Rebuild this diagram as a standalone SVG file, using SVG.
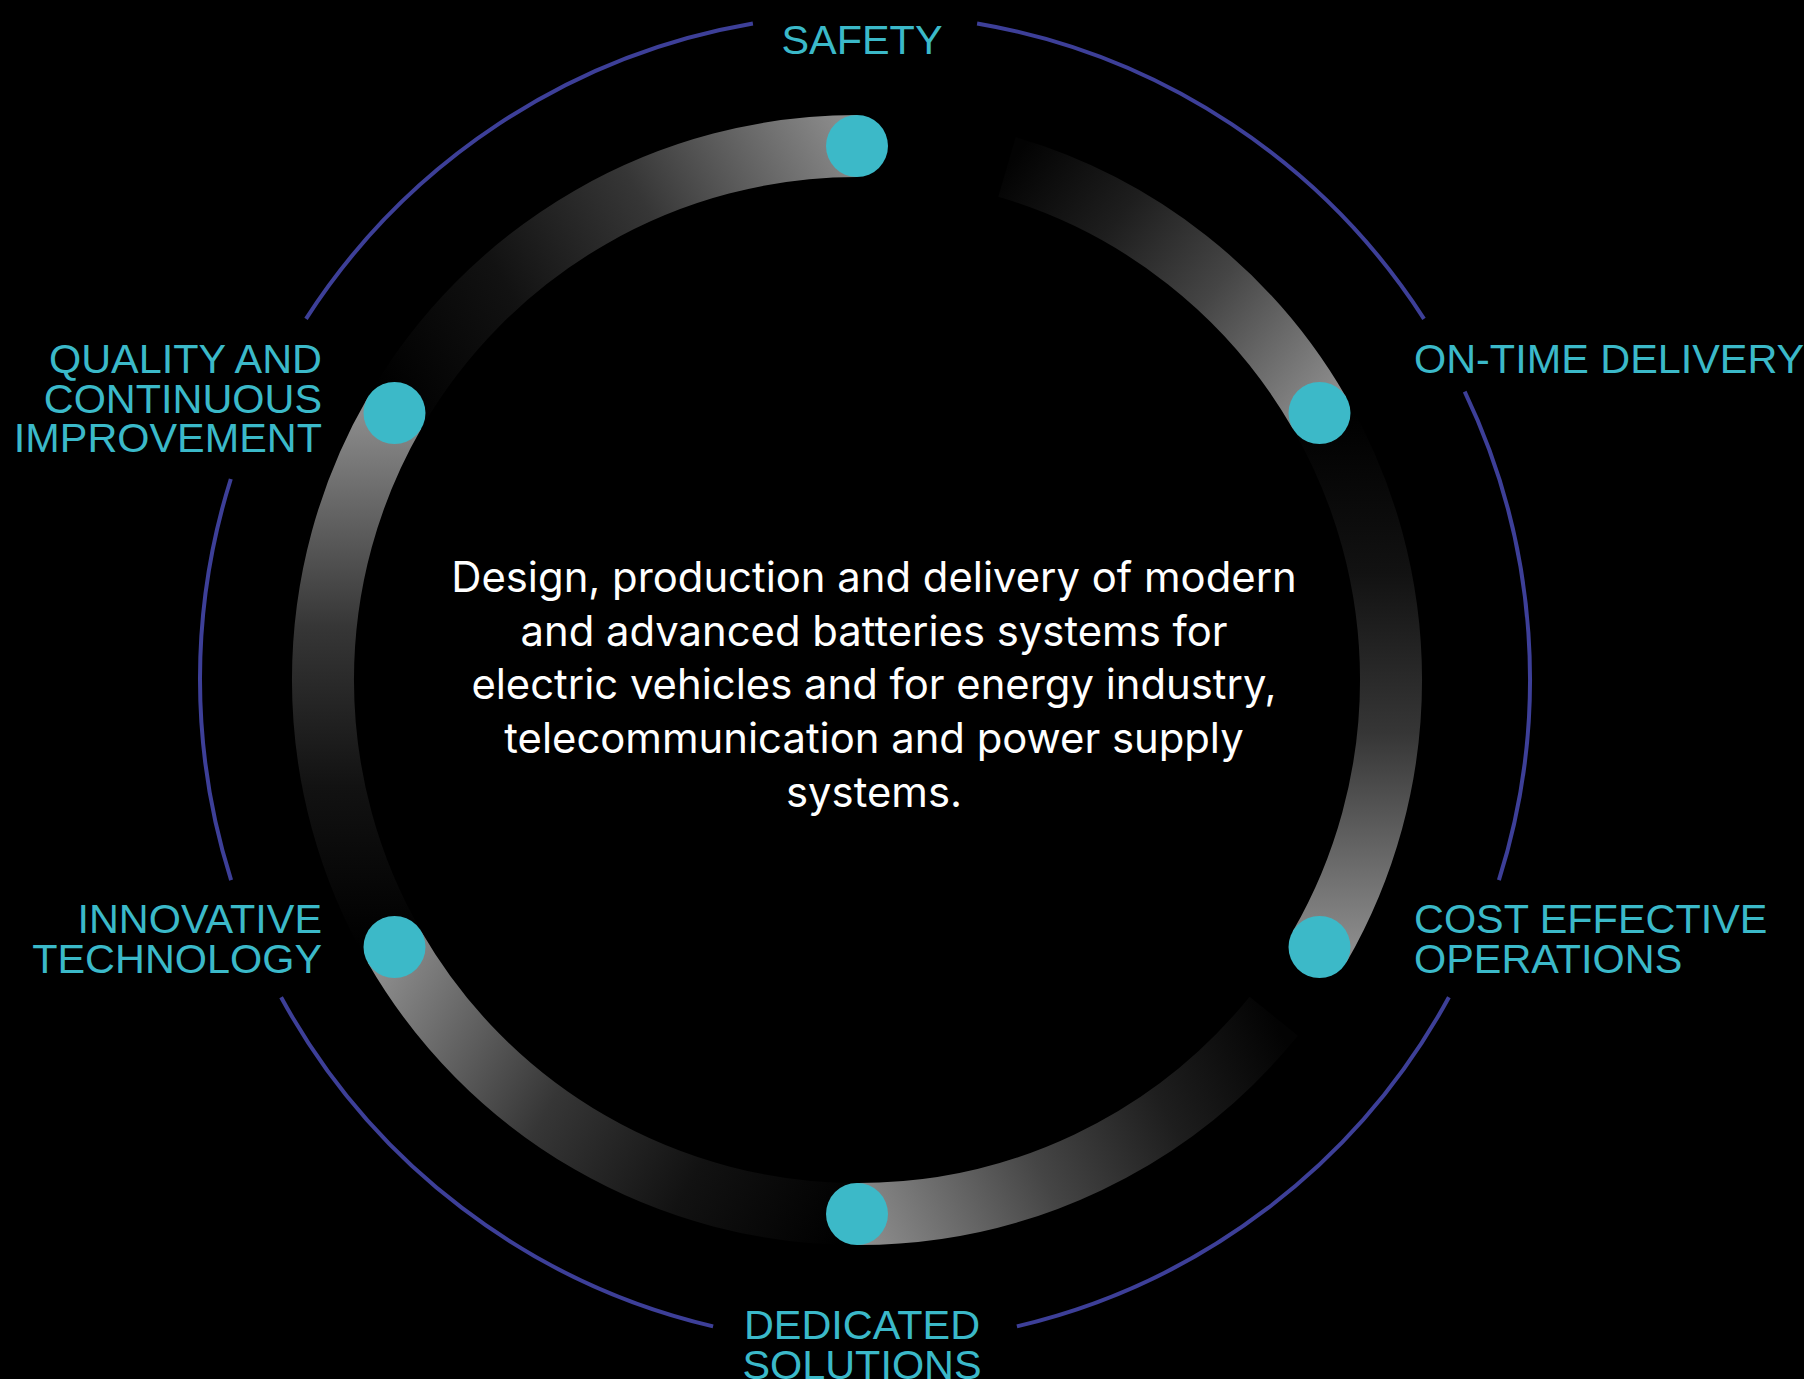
<svg xmlns="http://www.w3.org/2000/svg" width="1804" height="1379" viewBox="0 0 1804 1379">
<defs>
<style>
.label{font-family:"Liberation Sans",Arial,sans-serif;font-size:41.4px;fill:#3bb9c9}
.body{font-family:Inter,"Liberation Sans",sans-serif;font-size:41.8px;fill:#ffffff;text-anchor:middle}
.frame{fill:none;stroke:#3d3f98;stroke-width:4}
.seg{fill:none;stroke-width:62;stroke-linecap:butt}
.dot{fill:#3cb9c8}
</style>
<linearGradient id="gA" gradientUnits="userSpaceOnUse" x1="394.5" y1="413" x2="857" y2="146"><stop offset="0" stop-color="#000"/><stop offset="0.3" stop-color="#121212"/><stop offset="0.6" stop-color="#363636"/><stop offset="1" stop-color="#8c8c8c"/></linearGradient>
<linearGradient id="gB" gradientUnits="userSpaceOnUse" x1="1007" y1="167" x2="1319.5" y2="413"><stop offset="0" stop-color="#030303"/><stop offset="0.3" stop-color="#1e1e1e"/><stop offset="0.6" stop-color="#454545"/><stop offset="1" stop-color="#8c8c8c"/></linearGradient>
<linearGradient id="gC" gradientUnits="userSpaceOnUse" x1="1319.5" y1="413" x2="1319.5" y2="947"><stop offset="0" stop-color="#000"/><stop offset="0.3" stop-color="#121212"/><stop offset="0.6" stop-color="#363636"/><stop offset="1" stop-color="#8c8c8c"/></linearGradient>
<linearGradient id="gD" gradientUnits="userSpaceOnUse" x1="1273.7" y1="1016.2" x2="857" y2="1214"><stop offset="0" stop-color="#030303"/><stop offset="0.3" stop-color="#1e1e1e"/><stop offset="0.6" stop-color="#454545"/><stop offset="1" stop-color="#8c8c8c"/></linearGradient>
<linearGradient id="gE" gradientUnits="userSpaceOnUse" x1="857" y1="1214" x2="394.5" y2="947"><stop offset="0" stop-color="#000"/><stop offset="0.3" stop-color="#121212"/><stop offset="0.6" stop-color="#363636"/><stop offset="1" stop-color="#8c8c8c"/></linearGradient>
<linearGradient id="gF" gradientUnits="userSpaceOnUse" x1="394.5" y1="947" x2="394.5" y2="413"><stop offset="0" stop-color="#000"/><stop offset="0.3" stop-color="#121212"/><stop offset="0.6" stop-color="#363636"/><stop offset="1" stop-color="#8c8c8c"/></linearGradient>
</defs>
<rect x="0" y="0" width="1804" height="1379" fill="#000"/>
<g id="frame">
<path class="frame" d="M 977.1 23.5 A 665 665 0 0 1 1424.0 318.8"/>
<path class="frame" d="M 1464.7 391.7 A 665 665 0 0 1 1498.9 880.1"/>
<path class="frame" d="M 1448.9 997.3 A 665 665 0 0 1 1016.9 1326.4"/>
<path class="frame" d="M 713.1 1326.4 A 665 665 0 0 1 281.1 997.3"/>
<path class="frame" d="M 231.1 880.1 A 665 665 0 0 1 230.8 479.0"/>
<path class="frame" d="M 306.0 318.8 A 665 665 0 0 1 752.9 23.5"/>
</g>
<g id="connectors">
<path class="seg" stroke="url(#gA)" d="M 394.5 413 A 534 534 0 0 1 857 146"/>
<path class="seg" stroke="url(#gB)" d="M 1007 167 A 534 534 0 0 1 1319.5 413"/>
<path class="seg" stroke="url(#gC)" d="M 1319.5 413 A 534 534 0 0 1 1319.5 947"/>
<path class="seg" stroke="url(#gD)" d="M 1273.7 1016.2 A 534 534 0 0 1 857 1214"/>
<path class="seg" stroke="url(#gE)" d="M 857 1214 A 534 534 0 0 1 394.5 947"/>
<path class="seg" stroke="url(#gF)" d="M 394.5 947 A 534 534 0 0 1 394.5 413"/>
</g>
<g id="node-safety">
<circle class="dot" cx="857" cy="146" r="31"/>
<text class="label" x="862" y="54" text-anchor="middle">SAFETY</text>
</g>
<g id="node-ontime">
<circle class="dot" cx="1319.5" cy="413" r="31"/>
<text class="label" x="1414" y="373">ON-TIME DELIVERY</text>
</g>
<g id="node-cost">
<circle class="dot" cx="1319.5" cy="947" r="31"/>
<text class="label" x="1414" y="933">COST EFFECTIVE</text>
<text class="label" x="1414" y="972.5">OPERATIONS</text>
</g>
<g id="node-dedicated">
<circle class="dot" cx="857" cy="1214" r="31"/>
<text class="label" x="862" y="1339" text-anchor="middle">DEDICATED</text>
<text class="label" x="862" y="1378.5" text-anchor="middle">SOLUTIONS</text>
</g>
<g id="node-innovative">
<circle class="dot" cx="394.5" cy="947" r="31"/>
<text class="label" x="322" y="933" text-anchor="end">INNOVATIVE</text>
<text class="label" x="322" y="972.5" text-anchor="end">TECHNOLOGY</text>
</g>
<g id="node-quality">
<circle class="dot" cx="394.5" cy="413" r="31"/>
<text class="label" x="322" y="373.3" text-anchor="end">QUALITY AND</text>
<text class="label" x="322" y="412.8" text-anchor="end">CONTINUOUS</text>
<text class="label" x="322" y="452.3" text-anchor="end">IMPROVEMENT</text>
</g>
<g id="center-text">
<text class="body" x="874" y="591.7">Design, production and delivery of modern</text>
<text class="body" x="874" y="645.5">and advanced batteries systems for</text>
<text class="body" x="874" y="699.2">electric vehicles and for energy industry,</text>
<text class="body" x="874" y="753">telecommunication and power supply</text>
<text class="body" x="874" y="806.7">systems.</text>
</g>
</svg>
